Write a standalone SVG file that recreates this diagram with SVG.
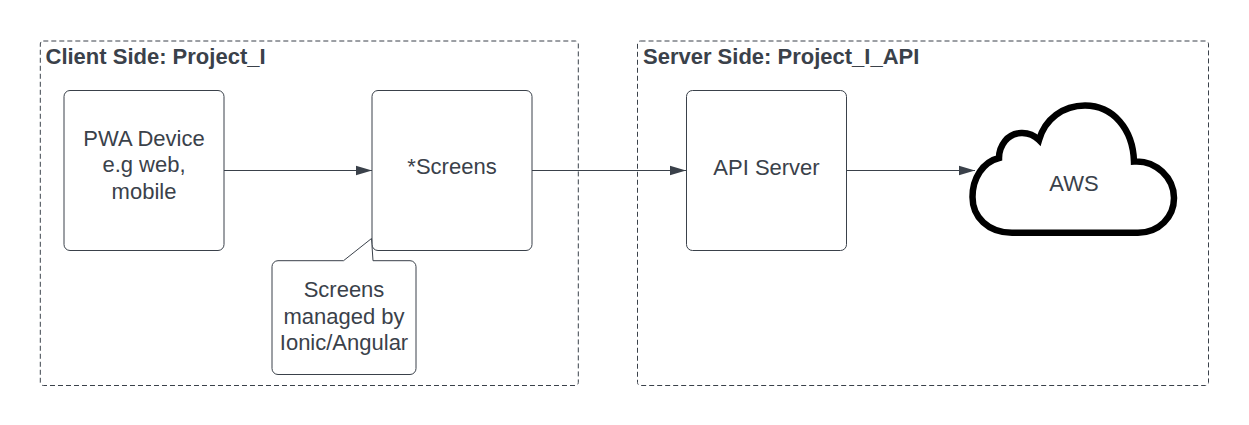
<svg xmlns="http://www.w3.org/2000/svg" width="1249" height="425" viewBox="0 0 1249 425">
<style>
text{font-family:"Liberation Sans",Arial,sans-serif;font-size:22px;fill:#3a414a;text-anchor:middle}
.t{font-weight:700;text-anchor:start}
.c{fill:none;stroke:#3a414a;stroke-width:1;stroke-dasharray:5 3}
.n{fill:#fff;stroke:#3a414a;stroke-width:1}
.l{fill:none;stroke:#3a414a;stroke-width:1;marker-end:url(#a)}
</style>
<defs><marker id="a" markerUnits="userSpaceOnUse" markerWidth="18" markerHeight="14" refX="16.500" refY="7" orient="auto"><path d="M0 2L16.500 7L0 12Z" fill="#3a414a"/></marker></defs>
<rect width="1249" height="425" fill="#fff"/>
<g id="client-side"><rect class="c" x="40.300" y="41" width="538" height="344.500" rx="3"/><text class="t" x="45.500" y="64">Client Side: Project_I</text></g>
<g id="server-side"><rect class="c" x="637.500" y="41" width="571" height="344.500" rx="3"/><text class="t" x="643" y="64">Server Side: Project_I_API</text></g>
<g id="connectors">
<path class="l" d="M224 170.500H372"/>
<path class="l" d="M532 170.500H686"/>
<path class="l" d="M847 170.500H975"/>
</g>
<g id="pwa"><rect class="n" x="64" y="90.500" width="160" height="160" rx="6"/><text x="144" y="146">PWA Device</text><text x="144" y="172">e.g web,</text><text x="144" y="199">mobile</text></g>
<g id="screens"><rect class="n" x="372" y="90.500" width="160" height="160" rx="6"/><text x="452" y="174">*Screens</text></g>
<g id="note"><path class="n" d="M278 260.700H343.500L371.500 238.500L373 260.700H410A6 6 0 0 1 416 266.700V368.500A6 6 0 0 1 410 374.500H278A6 6 0 0 1 272 368.500V266.700A6 6 0 0 1 278 260.700Z"/><text x="344" y="297">Screens</text><text x="344" y="324">managed by</text><text x="344" y="350">Ionic/Angular</text></g>
<g id="api"><rect class="n" x="686.500" y="90.500" width="160" height="160" rx="6"/><text x="766.500" y="175">API Server</text></g>
<g id="aws"><path d="M1012 232.700H1138C1159 232.700 1174 217 1174 198C1174 178 1156 160 1134 161.500C1133 129 1113 105.500 1085 105.500C1063 105.500 1045 119 1039 140C1029 130 1013 131 1005 141C1001 146 999 152 999 158C983 162 972.500 178 972.500 197C972.500 217 988 232.700 1012 232.700Z" fill="#fff" stroke="#000" stroke-width="6.500" stroke-linejoin="miter"/><text x="1074" y="191">AWS</text></g>
</svg>
